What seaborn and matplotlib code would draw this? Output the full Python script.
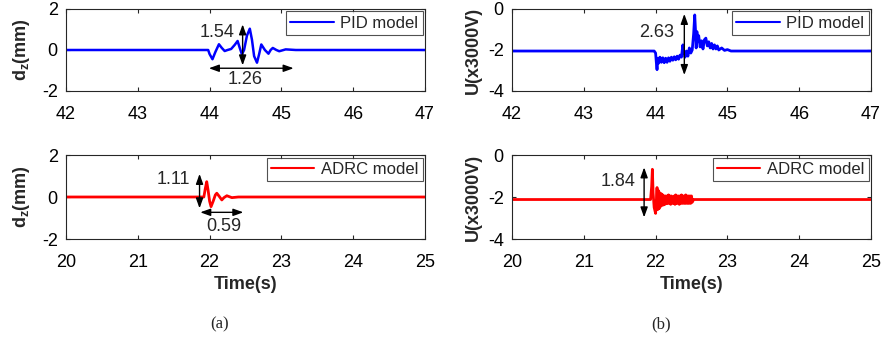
import matplotlib
matplotlib.use("Agg")
import matplotlib.pyplot as plt
import seaborn as sns
import pandas as pd

# ---------------- data ----------------
pid_dz_t = [42.0, 43.98, 44.00, 44.04, 44.08, 44.13, 44.17, 44.21, 44.25, 44.30,
            44.35, 44.39, 44.42, 44.45, 44.48, 44.52, 44.56, 44.59, 44.62, 44.66,
            44.69, 44.72, 44.77, 44.82, 44.85, 44.88, 44.93, 44.97, 45.06, 45.2, 47.0]
pid_dz_v = [0.0, 0.0, -0.2, -0.45, -0.1, 0.28, 0.1, -0.05, 0.0, 0.05,
            0.25, 0.44, 0.1, -0.21, 0.0, 0.7, 1.04, 0.5, -0.3, -0.62,
            -0.2, 0.27, 0.0, -0.18, 0.0, 0.10, 0.0, -0.06, 0.03, 0.0, 0.0]

adrc_dz_t = [20.0, 21.92, 21.94, 21.96, 21.98, 22.00, 22.02, 22.05, 22.08, 22.10,
             22.13, 22.17, 22.20, 22.24, 22.31, 22.4, 25.0]
adrc_dz_v = [0.0, 0.0, 0.4, 0.73, 0.3, -0.2, -0.46, -0.2, 0.1, 0.18,
             0.05, -0.14, -0.03, 0.06, -0.03, 0.0, 0.0]

pid_u_t = [42.0, 43.98, 44.00, 44.01, 44.02, 44.03, 44.04, 44.06, 44.08, 44.10,
           44.12, 44.14, 44.16, 44.18, 44.20, 44.22, 44.24, 44.26, 44.28, 44.30,
           44.32, 44.34, 44.36, 44.38, 44.39, 44.41, 44.43, 44.45, 44.47, 44.49,
           44.51, 44.53, 44.545, 44.555, 44.565, 44.575, 44.59, 44.60, 44.62, 44.64,
           44.66, 44.68, 44.70, 44.72, 44.74, 44.76, 44.78, 44.80, 44.82, 44.84,
           44.86, 44.88, 44.92, 44.96, 45.0, 45.05, 47.0]
pid_u_v = [-2.05, -2.05, -2.15, -2.6, -2.96, -2.4, -2.65, -2.35, -2.6, -2.38,
           -2.62, -2.4, -2.6, -2.38, -2.55, -2.35, -2.5, -2.33, -2.48, -2.3,
           -2.45, -2.25, -2.35, -1.75, -2.0, -2.35, -2.05, -2.3, -1.9, -2.15,
           -2.0, -1.2, -0.29, -1.0, -1.9, -1.1, -1.6, -1.3, -1.85, -1.55,
           -1.95, -1.5, -1.42, -1.8, -1.6, -1.9, -1.68, -1.95, -1.75, -1.95,
           -1.8, -2.0, -1.9, -2.02, -1.98, -2.05, -2.05]

adrc_u_t = [20.0, 21.93, 21.945, 21.955, 21.965, 21.98, 22.0, 22.01, 22.02, 22.03,
            22.04, 22.05, 22.06, 22.07, 22.08, 22.09, 22.10, 22.11, 22.12, 22.13,
            22.14, 22.15, 22.16, 22.17, 22.18, 22.19, 22.20, 22.21, 22.22, 22.23,
            22.24, 22.25, 22.26, 22.27, 22.28, 22.29, 22.30, 22.31, 22.32, 22.33,
            22.34, 22.35, 22.36, 22.37, 22.38, 22.39, 22.40, 22.41, 22.42, 22.43,
            22.44, 22.45, 22.46, 22.47, 22.48, 22.49, 22.50, 22.51, 22.53, 25.0]
adrc_u_v = [-2.12, -2.12, -1.5, -0.68, -1.8, -2.5, -2.78, -2.2, -1.55, -2.6,
            -1.7, -2.55, -1.8, -2.45, -1.85, -2.4, -1.9, -2.38, -1.95, -2.35,
            -1.95, -2.32, -1.95, -2.3, -1.9, -2.3, -1.95, -2.35, -1.95, -2.3,
            -2.0, -2.3, -1.95, -2.35, -1.9, -2.3, -1.95, -2.3, -1.95, -2.35,
            -1.95, -2.3, -1.9, -2.3, -1.95, -2.3, -1.95, -2.3, -1.9, -2.3,
            -1.95, -2.3, -1.95, -2.3, -1.95, -2.3, -1.95, -2.25, -2.12, -2.12]

pid_xticks = [42, 43, 44, 45, 46, 47]
adrc_xticks = [20, 21, 22, 23, 24, 25]
dz_yticks = [-2, 0, 2]
u_yticks = [-4, -2, 0]

# ---------------- style ----------------
sns.set_theme(style="ticks")
plt.rcParams["font.family"] = ["Liberation Sans", "DejaVu Sans"]
plt.rcParams["mathtext.fontset"] = "custom"
plt.rcParams["mathtext.rm"] = "Liberation Sans"
plt.rcParams["mathtext.bf"] = "Liberation Sans:bold"
plt.rcParams["axes.unicode_minus"] = False

EDGE = "#262626"
fig = plt.figure(figsize=(8.82, 3.38), dpi=100)
W, H = 882, 338

def make_ax(x0, x1, y0, y1):
    return fig.add_axes([x0 / W, 1 - y1 / H, (x1 - x0) / W, (y1 - y0) / H])

ax_a1 = make_ax(66, 425, 9, 91)
ax_b1 = make_ax(512, 871, 9, 91)
ax_a2 = make_ax(66, 425, 155, 239)
ax_b2 = make_ax(512, 871, 155, 239)

def style(ax, xticks, yticks, ylabel, xlabel=None, ylabelpad=4):
    ax.set_xlim(xticks[0], xticks[-1])
    ax.set_ylim(yticks[0], yticks[-1])
    ax.set_xticks(xticks)
    ax.set_yticks(yticks)
    ax.tick_params(direction="in", length=3, width=0.8, colors=EDGE,
                   labelsize=13, labelcolor="black", top=True, right=True)
    ax.tick_params(axis="x", pad=10.5)
    ax.tick_params(axis="y", pad=6)
    for s in ax.spines.values():
        s.set_color(EDGE)
        s.set_linewidth(0.8)
        s.set_visible(True)
    ax.set_ylabel(ylabel, fontsize=13, fontweight="bold", labelpad=ylabelpad)
    if xlabel:
        ax.set_xlabel(xlabel, fontsize=13, fontweight="bold", labelpad=4)
    else:
        ax.set_xlabel("")

def plot(ax, t, v, color, label, lw):
    df = pd.DataFrame({"t": t, "v": v})
    sns.lineplot(data=df, x="t", y="v", ax=ax, color=color, lw=lw, label=label,
                 sort=False, estimator=None)
    leg = ax.legend(loc="upper right", fontsize=12, frameon=True, fancybox=False,
                    edgecolor=EDGE, borderaxespad=0.15, handlelength=2.6,
                    handletextpad=0.4, borderpad=0.25)
    leg.get_frame().set_linewidth(0.8)
    for h in leg.get_lines():
        h.set_linewidth(1.5)

ARROW = "<|-|>,head_length=0.5,head_width=0.18"

def varrow(ax, x, y0, y1):
    ax.annotate("", xy=(x, y1), xytext=(x, y0),
                arrowprops=dict(arrowstyle=ARROW, color="black", lw=1.0,
                                shrinkA=0, shrinkB=0))

def harrow(ax, x0, x1, y):
    ax.annotate("", xy=(x1, y), xytext=(x0, y),
                arrowprops=dict(arrowstyle=ARROW, color="black", lw=1.0,
                                shrinkA=0, shrinkB=0))

plot(ax_a1, pid_dz_t, pid_dz_v, "#0000ff", "PID model", 1.8)
plot(ax_b1, pid_u_t, pid_u_v, "#0000ff", "PID model", 2.0)
plot(ax_a2, adrc_dz_t, adrc_dz_v, "#ff0000", "ADRC model", 2.0)
plot(ax_b2, adrc_u_t, adrc_u_v, "#ff0000", "ADRC model", 2.0)

dz_label = r"d$_{\mathbf{z}}$(mm)"
style(ax_a1, pid_xticks, dz_yticks, dz_label, ylabelpad=7)
style(ax_b1, pid_xticks, u_yticks, "U(x3000V)")
style(ax_a2, adrc_xticks, dz_yticks, dz_label, "Time(s)", ylabelpad=7)
style(ax_b2, adrc_xticks, u_yticks, "U(x3000V)", "Time(s)")

# annotations
varrow(ax_a1, 44.46, -0.75, 1.25)
ax_a1.text(44.10, 0.85, "1.54", fontsize=13, ha="center", va="center")
harrow(ax_a1, 43.99, 45.17, -0.89)
ax_a1.text(44.49, -1.43, "1.26", fontsize=13, ha="center", va="center")

varrow(ax_b1, 44.40, -3.22, -0.24)
ax_b1.text(44.02, -1.14, "2.63", fontsize=13, ha="center", va="center")

varrow(ax_a2, 21.86, -0.54, 1.1)
ax_a2.text(21.49, 0.81, "1.11", fontsize=13, ha="center", va="center")
harrow(ax_a2, 21.87, 22.47, -0.73)
ax_a2.text(22.20, -1.41, "0.59", fontsize=13, ha="center", va="center")

varrow(ax_b2, 21.84, -2.97, -0.59)
ax_b2.text(21.48, -1.27, "1.84", fontsize=13, ha="center", va="center")

# captions
fig.text(220 / W, 1 - 324 / H, "(a)", fontsize=12, family="Liberation Serif",
         ha="center", va="center")
fig.text(661 / W, 1 - 324 / H, "(b)", fontsize=12, family="Liberation Serif",
         ha="center", va="center")

fig.savefig("out.png", dpi=100, facecolor="white")
